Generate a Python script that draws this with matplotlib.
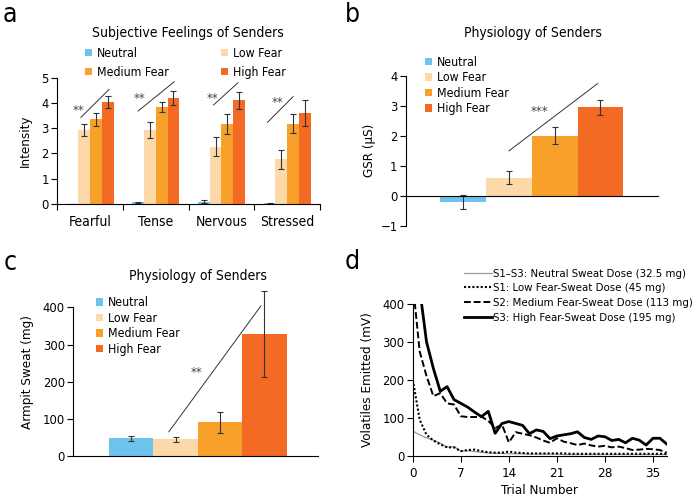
import numpy as np
import matplotlib
matplotlib.use('Agg')
from matplotlib import pyplot as plt

plt.rcParams['font.family'] = ['DejaVu Sans']
plt.rcParams['font.stretch'] = 'condensed'
plt.rcParams['axes.linewidth'] = 0.8
plt.rcParams['xtick.major.width'] = 0.8
plt.rcParams['ytick.major.width'] = 0.8

W, H = 692, 498

# colours of the four conditions
c_neutral = '#6cc4ee'
c_low = '#fdd8a8'
c_med = '#f8a12a'
c_high = '#f26a24'
conditions = ['Neutral', 'Low Fear', 'Medium Fear', 'High Fear']
colors = [c_neutral, c_low, c_med, c_high]

# panel a: subjective feelings
feelings = ['Fearful', 'Tense', 'Nervous', 'Stressed']
neutral_a = [0.0, 0.06, 0.08, 0.03]
neutral_a_err = [0.0, 0.03, 0.06, 0.02]
low_a = [2.93, 2.93, 2.27, 1.77]
low_a_err = [0.22, 0.33, 0.38, 0.37]
med_a = [3.35, 3.84, 3.18, 3.18]
med_a_err = [0.26, 0.21, 0.40, 0.37]
high_a = [4.03, 4.20, 4.10, 3.60]
high_a_err = [0.23, 0.28, 0.34, 0.53]

# panel b: GSR
gsr = [-0.21, 0.60, 2.00, 2.95]
gsr_err = [0.23, 0.22, 0.28, 0.25]

# panel c: armpit sweat
sweat = [48, 46, 91, 329]
sweat_err = [7.5, 6.5, 29, 115]

# panel d: volatiles per trial
trials = list(range(38))
vol_neutral = [65, 55, 47, 41, 33, 22, 24, 12, 13, 11, 9, 7, 6, 6, 5, 5, 5, 4, 4,
               4, 4, 4, 3, 3, 3, 3, 3, 3, 3, 3, 3, 3, 3, 3, 3, 3, 3, 3]
vol_low = [200, 95, 55, 40, 30, 22, 22, 12, 15, 16, 12, 9, 8, 8, 11, 8, 7, 6, 6,
           6, 6, 6, 6, 5, 5, 5, 5, 5, 5, 5, 5, 5, 5, 5, 5, 5, 5, 5]
vol_med = [455, 275, 210, 157, 165, 138, 135, 104, 102, 102, 103, 92, 73, 82, 35,
           62, 58, 54, 48, 40, 34, 46, 37, 33, 28, 32, 27, 24, 26, 22, 24, 20, 15,
           16, 18, 17, 15, 8]
vol_high = [650, 440, 300, 230, 170, 182, 148, 138, 128, 115, 103, 117, 59, 85, 90,
            85, 80, 58, 68, 64, 45, 52, 55, 58, 63, 48, 43, 52, 50, 40, 43, 34, 46,
            41, 28, 46, 46, 31]
d_labels = ['S1\u2013S3: Neutral Sweat Dose (32.5 mg)',
            'S1: Low Fear-Sweat Dose (45 mg)',
            'S2: Medium Fear-Sweat Dose (113 mg)',
            'S3: High Fear-Sweat Dose (195 mg)']

FS_TITLE = 10
FS_TICK = 9.3
FS_LAB = 9.6
FS_LEG = 8.8


def box(l, t, r, b):
    return [l / W, 1 - b / H, (r - l) / W, (b - t) / H]


def fig_pt(x, y):
    return (x / W, 1 - y / H)


def plain_axes(ax):
    ax.spines['top'].set_visible(False)
    ax.spines['right'].set_visible(False)
    ax.tick_params(direction='out', length=4, labelsize=FS_TICK, pad=2)


fig = plt.figure(figsize=(W / 100, H / 100), dpi=100)
ekw = dict(ecolor='#333333', elinewidth=0.8, capsize=2.2, capthick=0.8)
txtc = '#444444'
sq = dict(frameon=False, fontsize=FS_LEG, handlelength=0.55, handleheight=0.55,
          handletextpad=0.4, borderpad=0, borderaxespad=0, loc='upper left')

# ---------------- a ----------------
ax = fig.add_axes(box(57.3, 77.7, 320, 204))
plain_axes(ax)
x = np.arange(len(feelings))
bw = 0.178
series = [(neutral_a, neutral_a_err), (low_a, low_a_err), (med_a, med_a_err), (high_a, high_a_err)]
bars = []
for i, (v, e) in enumerate(series):
    b = ax.bar(x + (i - 1.5) * bw, v, bw, yerr=e, color=colors[i], error_kw=ekw,
               label=conditions[i], zorder=2)
    bars.append(b)
ax.set_xlim(-0.5, 3.5)
ax.set_ylim(0, 5)
ax.set_xticks(np.arange(-0.5, 4, 1))
ax.set_xticklabels([])
ax.set_xticks(x, minor=True)
ax.set_xticklabels(feelings, minor=True, fontsize=10)
ax.tick_params(axis='x', which='minor', length=0, pad=8)
ax.set_yticks(range(6))
ax.set_ylabel('Intensity', fontsize=FS_LAB, labelpad=7)
# significance marks
sig_a = [(-0.14, 3.43, 0.29, 4.54, -0.18, 3.72),
         (-0.27, 3.68, 0.28, 4.84, -0.25, 4.17),
         (-0.12, 3.92, 0.25, 4.80, -0.13, 4.19),
         (-0.30, 3.23, 0.09, 4.25, -0.14, 4.01)]
for i, (x0, y0, x1, y1, tx, ty) in enumerate(sig_a):
    ax.plot([i + x0, i + x1], [y0, y1], color='#333333', lw=0.7)
    ax.text(i + tx, ty, '**', ha='center', va='center', fontsize=9.5, color=txtc)
fig.text(188 / W, 1 - 33 / H, 'Subjective Feelings of Senders', ha='center', va='center', fontsize=FS_TITLE)
ax.legend([bars[0], bars[2], bars[1], bars[3]],
          ['Neutral', 'Medium Fear', 'Low Fear', 'High Fear'],
          ncol=2, bbox_to_anchor=fig_pt(85, 47), bbox_transform=fig.transFigure,
          labelspacing=0.5, columnspacing=4.3, **sq)
fig.text(10 / W, 1 - 15 / H, 'a', fontsize=19, ha='center', va='center')

# ---------------- b ----------------
ax = fig.add_axes(box(406, 76, 657.7, 225.7))
ax.spines['top'].set_visible(False)
ax.spines['right'].set_visible(False)
ax.spines['bottom'].set_position(('data', 0))
ax.tick_params(direction='out', length=4, labelsize=FS_TICK, pad=2)
xb = np.arange(4)
bb = ax.bar(xb, gsr, 1.0, yerr=gsr_err, color=colors, error_kw=ekw, zorder=2)
ax.set_xlim(-1.25, 4.25)
ax.set_ylim(-1, 4)
ax.set_xticks([])
ax.set_yticks(range(-1, 5))
ax.set_yticklabels(['\u22121', '0', '1', '2', '3', '4'])
ax.set_ylabel('GSR (\u03bcS)', fontsize=FS_LAB, labelpad=3)
ax.plot([1.0, 2.94], [1.5, 3.75], color='#333333', lw=0.7)
ax.text(1.66, 2.8, '***', ha='center', va='center', fontsize=9.5, color=txtc)
fig.text(532.7 / W, 1 - 33.3 / H, 'Physiology of Senders', ha='center', va='center', fontsize=FS_TITLE)
ax.legend(bb.patches, conditions, bbox_to_anchor=fig_pt(425, 56),
          bbox_transform=fig.transFigure, labelspacing=0.2, **sq)
fig.text(352 / W, 1 - 15 / H, 'b', fontsize=19, ha='center', va='center')

# ---------------- c ----------------
ax = fig.add_axes(box(73.3, 288.7, 318.3, 456.3))
plain_axes(ax)
cb = ax.bar(xb, sweat, 1.0, yerr=sweat_err, color=colors, error_kw=ekw, zorder=2)
ax.set_xlim(-1.3, 4.21)
ax.set_ylim(0, 450)
ax.spines['left'].set_bounds(0, 400)
ax.set_xticks([])
ax.set_yticks(range(0, 401, 100))
ax.set_ylabel('Armpit Sweat (mg)', fontsize=FS_LAB, labelpad=6)
ax.plot([0.85, 2.92], [66, 404], color='#333333', lw=0.7)
ax.text(1.47, 225, '**', ha='center', va='center', fontsize=9.5, color=txtc)
fig.text(198.3 / W, 1 - 275.7 / H, 'Physiology of Senders', ha='center', va='center', fontsize=FS_TITLE)
ax.legend(cb.patches, conditions, bbox_to_anchor=fig_pt(96, 296.5),
          bbox_transform=fig.transFigure, labelspacing=0.2, **sq)
fig.text(10 / W, 1 - 263 / H, 'c', fontsize=19, ha='center', va='center')

# ---------------- d ----------------
ax = fig.add_axes(box(412.8, 304, 666.7, 455.7))
plain_axes(ax)
l1, = ax.plot(trials, vol_neutral, color='#999999', lw=0.9)
l2, = ax.plot(trials, vol_low, color='black', lw=1.5, linestyle=(0, (1, 1)))
l3, = ax.plot(trials, vol_med, color='black', lw=1.4, linestyle=(0, (3.5, 1.5)))
l4, = ax.plot(trials, vol_high, color='black', lw=2.0)
ax.set_xlim(0, 37)
ax.set_ylim(0, 400)
ax.set_xticks(range(0, 36, 7))
ax.set_yticks(range(0, 401, 100))
ax.tick_params(axis='x', labelsize=9.6, pad=4)
ax.set_xlabel('Trial Number', fontsize=FS_LAB, labelpad=3)
ax.set_ylabel('Volatiles Emitted (mV)', fontsize=FS_LAB, labelpad=6)
ax.legend([l1, l2, l3, l4], d_labels, loc='upper left', bbox_to_anchor=fig_pt(464, 268.5),
          bbox_transform=fig.transFigure, frameon=False, fontsize=8.2,
          handlelength=2.45, handletextpad=0.1, labelspacing=0.42,
          borderpad=0, borderaxespad=0)
fig.text(352 / W, 1 - 262 / H, 'd', fontsize=19, ha='center', va='center')

fig.savefig('out.png', dpi=100)
